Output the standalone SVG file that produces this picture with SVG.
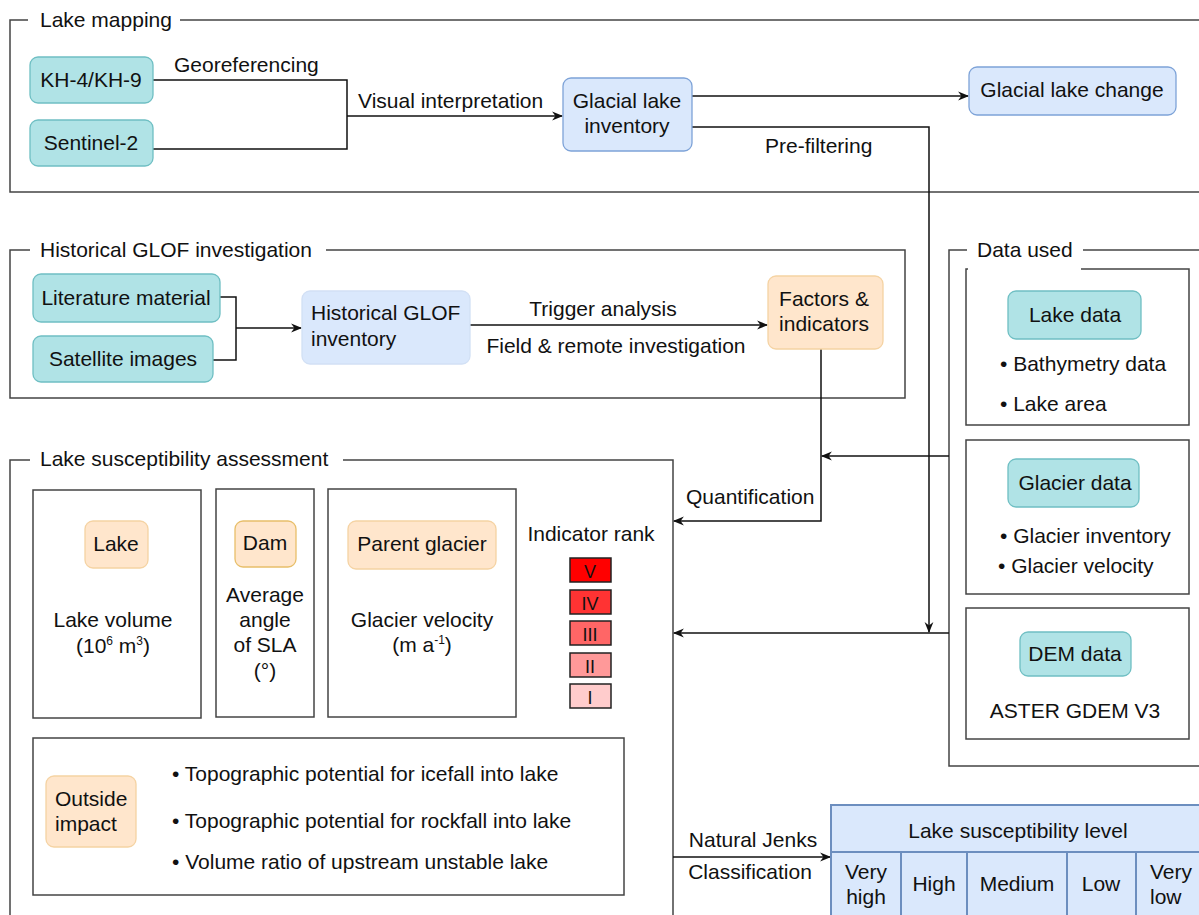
<svg xmlns="http://www.w3.org/2000/svg" width="1199" height="915" viewBox="0 0 1199 915">
<style>
text{font-family:"Liberation Sans",Arial,sans-serif;font-size:21px;fill:#111}
.c{text-anchor:middle}
.frame{fill:none;stroke:#444;stroke-width:1.5}
.box{fill:#fff;stroke:#444;stroke-width:1.5}
.teal{fill:#b0e3e6;stroke:#6fbfc3;stroke-width:1.3}
.blue{fill:#dae8fc;stroke:#7ea3d8;stroke-width:1.3}
.org{fill:#ffe6cc;stroke:#f5d3a3;stroke-width:1.3}
.rank{stroke:#222;stroke-width:1.5}
.tbl{fill:#dae8fc;stroke:#6c8ebf;stroke-width:2}
.ln{fill:none;stroke:#111;stroke-width:1.5}
.sup{font-size:12px}
</style>
<defs>
<marker id="arr" viewBox="0 0 10 10" refX="9" refY="5" markerWidth="13" markerHeight="11" markerUnits="userSpaceOnUse" orient="auto">
<path d="M0,1 L10,5 L0,9 L3,5 z" fill="#111"/>
</marker>
</defs>
<rect width="1199" height="915" fill="#fff"/>

<g id="frame-lake-mapping">
<path class="frame" d="M28,20 H10 V192 H1199"/>
<path class="frame" d="M180,20 H1199"/>
<text x="40" y="27">Lake mapping</text>
</g>
<g id="frame-historical">
<path class="frame" d="M30,250 H10 V398 H905 V250 H326"/>
<text x="40" y="257">Historical GLOF investigation</text>
</g>
<g id="frame-data-used">
<path class="frame" d="M967,250 H949 V766 H1199"/>
<path class="frame" d="M1083,250 H1199"/>
<text x="977" y="257">Data used</text>
</g>
<g id="frame-susceptibility">
<path class="frame" d="M30,460 H10 V915"/>
<path class="frame" d="M343,460 H673 V915"/>
<text x="40" y="466">Lake susceptibility assessment</text>
</g>

<g id="connectors">
<path class="ln" d="M153,80 H347 V149 H153"/>
<path class="ln" d="M347,116 H562" marker-end="url(#arr)"/>
<path class="ln" d="M692,96 H968" marker-end="url(#arr)"/>
<path class="ln" d="M692,127 H929 V632" marker-end="url(#arr)"/>
<path class="ln" d="M220,297 H236 V360 H213"/>
<path class="ln" d="M236,328 H301" marker-end="url(#arr)"/>
<path class="ln" d="M470,325 H767" marker-end="url(#arr)"/>
<path class="ln" d="M821,349 V521 H674" marker-end="url(#arr)"/>
<path class="ln" d="M949,456 H822" marker-end="url(#arr)"/>
<path class="ln" d="M949,633 H674" marker-end="url(#arr)"/>
<path class="ln" d="M673,857 H830" marker-end="url(#arr)"/>
<text x="174" y="72">Georeferencing</text>
<text x="358" y="108">Visual interpretation</text>
<text x="765" y="153">Pre-filtering</text>
<text class="c" x="603" y="316">Trigger analysis</text>
<text class="c" x="616" y="353">Field &amp; remote investigation</text>
<text x="686" y="504">Quantification</text>
<text class="c" x="753" y="847">Natural Jenks</text>
<text class="c" x="750" y="879">Classification</text>
</g>

<g id="kh">
<rect class="teal" x="30" y="57" width="123" height="46" rx="8"/>
<text class="c" x="91" y="87">KH-4/KH-9</text>
</g>
<g id="sentinel">
<rect class="teal" x="30" y="120" width="123" height="46" rx="8"/>
<text class="c" x="91" y="150">Sentinel-2</text>
</g>
<g id="glacial-lake-inventory">
<rect class="blue" x="563" y="78" width="129" height="73" rx="8"/>
<text class="c" x="627" y="108">Glacial lake</text>
<text class="c" x="627" y="133">inventory</text>
</g>
<g id="glacial-lake-change">
<rect class="blue" x="969" y="67" width="207" height="48" rx="8"/>
<text class="c" x="1072" y="97">Glacial lake change</text>
</g>

<g id="literature">
<rect class="teal" x="33" y="274" width="187" height="48" rx="8"/>
<text class="c" x="126" y="305">Literature material</text>
</g>
<g id="satellite">
<rect class="teal" x="33" y="336" width="180" height="46" rx="8"/>
<text class="c" x="123" y="366">Satellite images</text>
</g>
<g id="historical-inventory">
<rect x="302" y="291" width="168" height="73" rx="8" fill="#dae8fc" stroke="#d2e0f5" stroke-width="1.3"/>
<text x="311" y="320">Historical GLOF</text>
<text x="311" y="346">inventory</text>
</g>
<g id="factors">
<rect class="org" x="768" y="276" width="115" height="73" rx="8"/>
<text class="c" x="824" y="306">Factors &amp;</text>
<text class="c" x="824" y="331">indicators</text>
</g>

<g id="data-lake">
<path class="box" d="M968,269 H966 V425 H1189 V269 H1081"/>
<rect class="teal" x="1008" y="291" width="133" height="48" rx="8"/>
<text class="c" x="1075" y="322">Lake data</text>
<text x="1000" y="371">• Bathymetry data</text>
<text x="1000" y="411">• Lake area</text>
</g>
<g id="data-glacier">
<rect class="box" x="966" y="440" width="223" height="154"/>
<rect class="teal" x="1008" y="459" width="131" height="48" rx="8"/>
<text class="c" x="1075" y="490">Glacier data</text>
<text x="1000" y="543">• Glacier inventory</text>
<text x="998" y="573">• Glacier velocity</text>
</g>
<g id="data-dem">
<rect class="box" x="966" y="608" width="223" height="131"/>
<rect class="teal" x="1020" y="632" width="111" height="44" rx="8"/>
<text class="c" x="1075" y="661">DEM data</text>
<text class="c" x="1075" y="718">ASTER GDEM V3</text>
</g>

<g id="lake-box">
<rect class="box" x="33" y="490" width="168" height="228"/>
<rect class="org" x="85" y="521" width="63" height="47" rx="8"/>
<text class="c" x="116" y="551">Lake</text>
<text class="c" x="113" y="627">Lake volume</text>
<text class="c" x="113" y="653">(10<tspan class="sup" dy="-8">6</tspan><tspan dy="8"> m</tspan><tspan class="sup" dy="-8">3</tspan><tspan dy="8">)</tspan></text>
</g>
<g id="dam-box">
<rect class="box" x="216" y="489" width="98" height="228"/>
<rect x="235" y="521" width="61" height="46" rx="8" fill="#ffe6cc" stroke="#e8bf6a" stroke-width="1.3"/>
<text class="c" x="265" y="550">Dam</text>
<text class="c" x="265" y="602">Average</text>
<text class="c" x="265" y="627">angle</text>
<text class="c" x="265" y="652">of SLA</text>
<text class="c" x="265" y="678">(°)</text>
</g>
<g id="glacier-box">
<rect class="box" x="328" y="489" width="188" height="228"/>
<rect class="org" x="348" y="521" width="148" height="48" rx="8"/>
<text class="c" x="422" y="551">Parent glacier</text>
<text class="c" x="422" y="627">Glacier velocity</text>
<text class="c" x="422" y="652">(m a<tspan class="sup" dy="-8">-1</tspan><tspan dy="8">)</tspan></text>
</g>
<g id="indicator-rank">
<text class="c" x="591" y="541">Indicator rank</text>
<rect class="rank" x="570" y="558" width="41" height="24" fill="#ff0000"/>
<text class="c" x="590" y="578" style="font-size:18px">V</text>
<rect class="rank" x="570" y="590" width="41" height="24" fill="#ff3333"/>
<text class="c" x="590" y="610" style="font-size:18px">IV</text>
<rect class="rank" x="570" y="621" width="41" height="24" fill="#ff6666"/>
<text class="c" x="590" y="641" style="font-size:18px">III</text>
<rect class="rank" x="570" y="653" width="41" height="24" fill="#ff9999"/>
<text class="c" x="590" y="673" style="font-size:18px">II</text>
<rect class="rank" x="570" y="684" width="41" height="24" fill="#ffcccc"/>
<text class="c" x="590" y="704" style="font-size:18px">I</text>
</g>
<g id="outside-box">
<rect class="box" x="33" y="738" width="591" height="157"/>
<rect class="org" x="46" y="776" width="90" height="71" rx="8"/>
<text x="55" y="806">Outside</text>
<text x="55" y="831">impact</text>
<text x="172" y="781">• Topographic potential for icefall into lake</text>
<text x="172" y="828">• Topographic potential for rockfall into lake</text>
<text x="172" y="869">• Volume ratio of upstream unstable lake</text>
</g>

<g id="susceptibility-level">
<rect class="tbl" x="831" y="805" width="380" height="120"/>
<path class="tbl" d="M831,852 H1211 M901,852 V915 M967,852 V915 M1067,852 V915 M1136,852 V915"/>
<text class="c" x="1018" y="838">Lake susceptibility level</text>
<text class="c" x="866" y="879">Very</text>
<text class="c" x="866" y="904">high</text>
<text class="c" x="934" y="891">High</text>
<text class="c" x="1017" y="891">Medium</text>
<text class="c" x="1101" y="891">Low</text>
<text x="1150" y="879">Very</text>
<text x="1150" y="904">low</text>
</g>
</svg>
